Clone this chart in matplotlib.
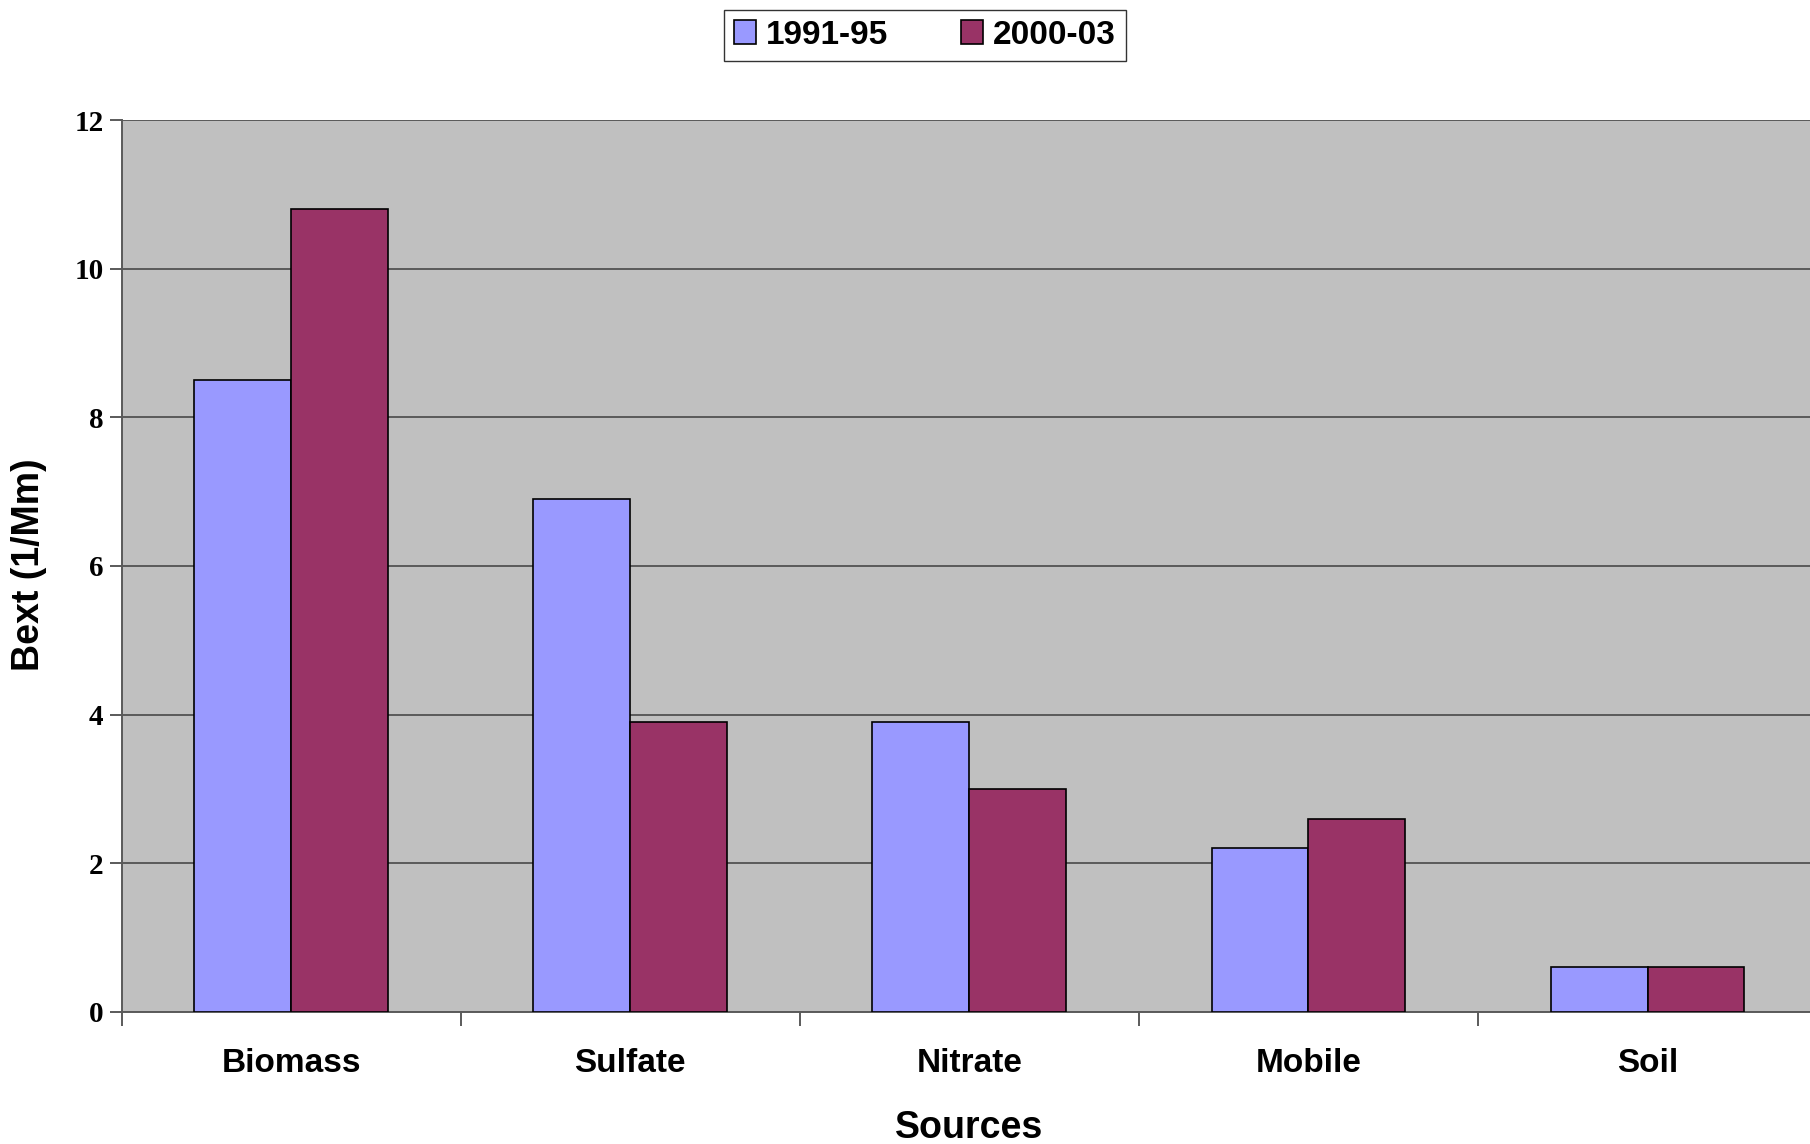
import matplotlib
matplotlib.use('Agg')
import matplotlib.pyplot as plt
import numpy as np

# 数据：各来源的消光系数
sources = ['Biomass', 'Sulfate', 'Nitrate', 'Mobile', 'Soil']
bext_1991_95 = [8.5, 6.9, 3.9, 2.2, 0.6]
bext_2000_03 = [10.8, 3.9, 3.0, 2.6, 0.6]
series_names = ['1991-95', '2000-03']
y_ticks = [0, 2, 4, 6, 8, 10, 12]

plt.rcParams['font.family'] = ['Liberation Sans', 'DejaVu Sans']

fig = plt.figure(figsize=(18.10, 11.44), dpi=100)
ax = fig.add_axes([0.0672, 0.1154, 0.9367, 0.7797])
ax.set_facecolor('#C0C0C0')

# Excel 风格：柱宽 = 1 / (2 + 1.5)
bar_w = 1 / 3.5
centers = np.arange(len(sources)) + 0.5
b1 = ax.bar(centers - bar_w / 2, bext_1991_95, bar_w, color='#9999FF',
            edgecolor='black', linewidth=1.2, label=series_names[0], zorder=3)
b2 = ax.bar(centers + bar_w / 2, bext_2000_03, bar_w, color='#993366',
            edgecolor='black', linewidth=1.2, label=series_names[1], zorder=3)

ax.set_xlim(0, len(sources))
ax.set_ylim(0, 12)

# 网格线
ax.set_yticks(y_ticks)
ax.yaxis.grid(True, color='#5a5a5a', linewidth=1.4, zorder=1)
ax.set_axisbelow(True)

# 坐标轴样式
for side in ['top', 'right']:
    ax.spines[side].set_visible(False)
for side in ['left', 'bottom']:
    ax.spines[side].set_color('#5a5a5a')
    ax.spines[side].set_linewidth(1.4)

# x 轴：分隔刻度 + 居中标签
ax.set_xticks(np.arange(len(sources) + 1))
ax.set_xticklabels([])
ax.set_xticks(centers, minor=True)
ax.set_xticklabels(sources, minor=True, fontsize=24, fontweight='bold')
ax.tick_params(axis='x', which='major', direction='out', length=10,
               width=1.4, color='#5a5a5a')
ax.tick_params(axis='x', which='minor', length=0, pad=26)

ax.tick_params(axis='y', direction='out', length=9, width=1.4,
               color='#5a5a5a', pad=4)
ax.set_yticklabels([str(v) for v in y_ticks], fontsize=21, fontweight='bold',
                   family=['Liberation Serif', 'DejaVu Serif'])

ax.set_xlabel('Sources', fontsize=27, fontweight='bold', labelpad=22)
fig.text(0.016, 0.506, 'Bext (1/Mm)', rotation=90, ha='center', va='center',
         fontsize=27, fontweight='bold')

# 图例
leg = fig.legend(handles=[b1, b2], loc='center', bbox_to_anchor=(0.511, 0.9694),
                 ncol=2, frameon=True, fancybox=False, shadow=False,
                 prop={'size': 24, 'weight': 'bold'}, handlelength=0.65,
                 handleheight=0.7, handletextpad=0.3, columnspacing=2.2,
                 borderpad=0.3, borderaxespad=0)
leg.get_frame().set_edgecolor('black')
leg.get_frame().set_linewidth(1.0)

fig.savefig('out.png', dpi=100)
